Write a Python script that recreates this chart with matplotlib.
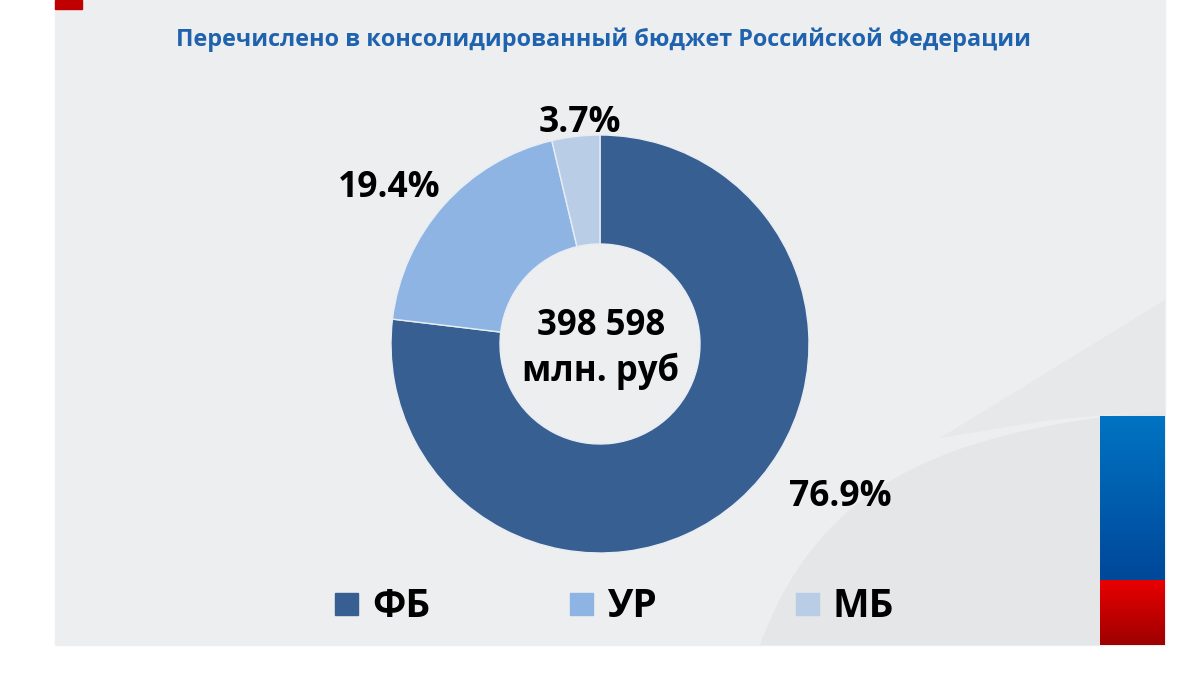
import matplotlib.pyplot as plt
from matplotlib.patches import Rectangle, Polygon, PathPatch
from matplotlib.path import Path
from matplotlib.colors import LinearSegmentedColormap
import numpy as np

# data
categories = ["ФБ", "УР", "МБ"]
shares = [76.9, 19.4, 3.7]
pct_labels = ["76.9%", "19.4%", "3.7%"]
colors = ["#375F92", "#8DB4E3", "#B9CEE6"]
total_lines = ["398 598", "млн. руб"]
title = "Перечислено в консолидированный бюджет Российской Федерации"

plt.rcParams['font.family'] = ['Open Sans', 'DejaVu Sans']

W, H = 1200, 675
fig = plt.figure(figsize=(12, 6.75), dpi=100)
ax = fig.add_axes([0, 0, 1, 1])

def Y(y):
    # picture coords (top down) -> axes coords
    return H - y

# background panel and decorations
ax.add_patch(Rectangle((55, Y(645)), 1110, 645, color="#EDEEF0", zorder=0))
# soft curved swoosh in the lower right corner
swoosh = Path([(760, Y(645)), (820, Y(480)), (950, Y(430)), (1165, Y(410)),
               (1165, Y(645)), (760, Y(645))],
              [Path.MOVETO, Path.CURVE4, Path.CURVE4, Path.CURVE4,
               Path.LINETO, Path.CLOSEPOLY])
ax.add_patch(PathPatch(swoosh, color="#E5E6E8", lw=0, zorder=0))
ax.add_patch(Polygon([(940, Y(438)), (1165, Y(300)), (1165, Y(410)), (1050, Y(420))],
                     closed=True, color="#E7E8EA", lw=0, zorder=0))
ax.add_patch(Rectangle((55, Y(9)), 27, 9, color="#C00000", zorder=1))

# flag bars with vertical gradient
grad = np.linspace(0, 1, 50).reshape(-1, 1)
ax.imshow(grad, extent=(1100, 1165, Y(580), Y(416)), aspect='auto', zorder=1,
          cmap=LinearSegmentedColormap.from_list("b", ["#0073C2", "#00489A"]))
ax.imshow(grad, extent=(1100, 1165, Y(645), Y(580)), aspect='auto', zorder=1,
          cmap=LinearSegmentedColormap.from_list("r", ["#E80000", "#9E0000"]))

# title
ax.text(603, Y(40), title, ha='center', va='center', fontsize=16.8,
        fontweight='bold', color="#1F62AE")

# donut
ax.pie(shares, colors=colors, startangle=90, counterclock=False,
       center=(600, Y(344)), radius=209, frame=True,
       wedgeprops=dict(width=109, edgecolor="#E8EDF3", linewidth=1))
ax.set_xlim(0, W)
ax.set_ylim(0, H)
ax.set_aspect('equal')
ax.axis('off')

label_pos = [(840, 506), (389, 197), (580, 132)]
for lab, (x, y) in zip(pct_labels, label_pos):
    ax.text(x, Y(y), lab, ha='center', va='baseline', fontsize=25.5,
            fontweight='bold', color="black")

for line, y in zip(total_lines, [335, 381]):
    ax.text(601, Y(y), line, ha='center', va='baseline', fontsize=25,
            fontweight='bold', color="black")

# legend
sq_x = [346, 581, 807]
for name, c, x in zip(categories, colors, sq_x):
    ax.add_patch(Rectangle((x - 11.5, Y(615)), 23, 22, color=c, zorder=3))
    ax.text(x + 26, Y(617), name, ha='left', va='baseline', fontsize=28,
            fontweight='bold', color="black")

fig.savefig("out.png", dpi=100, facecolor="white")
